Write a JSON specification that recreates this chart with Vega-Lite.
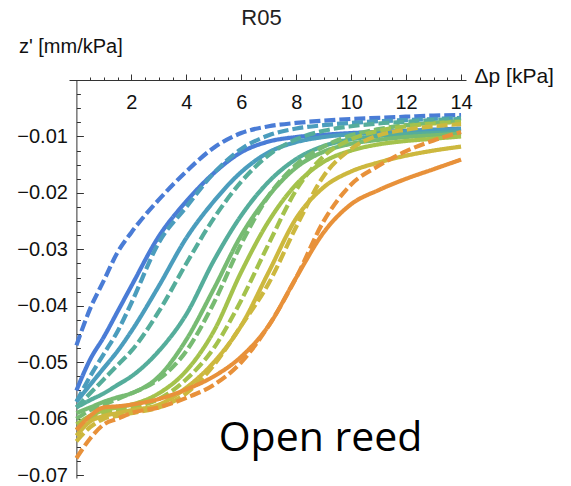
{
  "$schema": "https://vega.github.io/schema/vega-lite/v6.json",
  "width": 397,
  "height": 398,
  "autosize": "none",
  "padding": {"left": 69, "top": 80, "right": 105, "bottom": 8},
  "background": "white",
  "title": {"text": "R05", "font": "Liberation Sans", "fontSize": 22, "fontWeight": "normal", "color": "#222", "anchor": "middle", "frame": "group", "offset": 4, "dx": -6, "dy": -2},
  "config": {"view": {"stroke": null}, "font": "Liberation Sans"},
  "resolve": {"axis": {"x": "independent", "y": "independent"}},
  "datasets": {
    "curves": [
      {"series":"k0","style":"dashed","x":0,"y":-0.047},{"series":"k0","style":"dashed","x":0.5,"y":-0.0405},{"series":"k0","style":"dashed","x":1,"y":-0.0355},{"series":"k0","style":"dashed","x":1.5,"y":-0.0305},{"series":"k0","style":"dashed","x":2,"y":-0.027},{"series":"k0","style":"dashed","x":3,"y":-0.0212},{"series":"k0","style":"dashed","x":4,"y":-0.0162},{"series":"k0","style":"dashed","x":5,"y":-0.012},{"series":"k0","style":"dashed","x":6,"y":-0.0094},{"series":"k0","style":"dashed","x":7,"y":-0.0082},{"series":"k0","style":"dashed","x":8,"y":-0.0076},{"series":"k0","style":"dashed","x":9,"y":-0.0072},{"series":"k0","style":"dashed","x":10,"y":-0.0069},{"series":"k0","style":"dashed","x":11,"y":-0.0067},{"series":"k0","style":"dashed","x":12,"y":-0.0065},{"series":"k0","style":"dashed","x":13,"y":-0.0063},{"series":"k0","style":"dashed","x":14,"y":-0.0062},
      {"series":"k0","style":"solid","x":0,"y":-0.055},{"series":"k0","style":"solid","x":0.5,"y":-0.0495},{"series":"k0","style":"solid","x":1,"y":-0.0455},{"series":"k0","style":"solid","x":1.5,"y":-0.041},{"series":"k0","style":"solid","x":2,"y":-0.0365},{"series":"k0","style":"solid","x":3,"y":-0.0277},{"series":"k0","style":"solid","x":4,"y":-0.0215},{"series":"k0","style":"solid","x":5,"y":-0.0165},{"series":"k0","style":"solid","x":6,"y":-0.0128},{"series":"k0","style":"solid","x":7,"y":-0.0109},{"series":"k0","style":"solid","x":8,"y":-0.0101},{"series":"k0","style":"solid","x":9,"y":-0.0097},{"series":"k0","style":"solid","x":10,"y":-0.0094},{"series":"k0","style":"solid","x":11,"y":-0.0092},{"series":"k0","style":"solid","x":12,"y":-0.009},{"series":"k0","style":"solid","x":13,"y":-0.0088},{"series":"k0","style":"solid","x":14,"y":-0.0086},
      {"series":"k1","style":"dashed","x":0,"y":-0.057},{"series":"k1","style":"dashed","x":0.5,"y":-0.0525},{"series":"k1","style":"dashed","x":1,"y":-0.0485},{"series":"k1","style":"dashed","x":1.5,"y":-0.0445},{"series":"k1","style":"dashed","x":2,"y":-0.0395},{"series":"k1","style":"dashed","x":3,"y":-0.0288},{"series":"k1","style":"dashed","x":4,"y":-0.0225},{"series":"k1","style":"dashed","x":5,"y":-0.0165},{"series":"k1","style":"dashed","x":6,"y":-0.0122},{"series":"k1","style":"dashed","x":7,"y":-0.0098},{"series":"k1","style":"dashed","x":8,"y":-0.0086},{"series":"k1","style":"dashed","x":9,"y":-0.008},{"series":"k1","style":"dashed","x":10,"y":-0.0076},{"series":"k1","style":"dashed","x":11,"y":-0.0073},{"series":"k1","style":"dashed","x":12,"y":-0.0071},{"series":"k1","style":"dashed","x":13,"y":-0.0069},{"series":"k1","style":"dashed","x":14,"y":-0.0067},
      {"series":"k1","style":"solid","x":0,"y":-0.057},{"series":"k1","style":"solid","x":0.5,"y":-0.054},{"series":"k1","style":"solid","x":1,"y":-0.051},{"series":"k1","style":"solid","x":1.5,"y":-0.048},{"series":"k1","style":"solid","x":2,"y":-0.0445},{"series":"k1","style":"solid","x":3,"y":-0.0365},{"series":"k1","style":"solid","x":4,"y":-0.028},{"series":"k1","style":"solid","x":5,"y":-0.0215},{"series":"k1","style":"solid","x":6,"y":-0.0163},{"series":"k1","style":"solid","x":7,"y":-0.0128},{"series":"k1","style":"solid","x":8,"y":-0.011},{"series":"k1","style":"solid","x":9,"y":-0.0101},{"series":"k1","style":"solid","x":10,"y":-0.0096},{"series":"k1","style":"solid","x":11,"y":-0.0093},{"series":"k1","style":"solid","x":12,"y":-0.0091},{"series":"k1","style":"solid","x":13,"y":-0.0089},{"series":"k1","style":"solid","x":14,"y":-0.0087},
      {"series":"k2","style":"dashed","x":0,"y":-0.058},{"series":"k2","style":"dashed","x":0.5,"y":-0.0555},{"series":"k2","style":"dashed","x":1,"y":-0.053},{"series":"k2","style":"dashed","x":1.5,"y":-0.0505},{"series":"k2","style":"dashed","x":2,"y":-0.048},{"series":"k2","style":"dashed","x":3,"y":-0.041},{"series":"k2","style":"dashed","x":4,"y":-0.0325},{"series":"k2","style":"dashed","x":5,"y":-0.0245},{"series":"k2","style":"dashed","x":6,"y":-0.018},{"series":"k2","style":"dashed","x":7,"y":-0.0133},{"series":"k2","style":"dashed","x":8,"y":-0.0105},{"series":"k2","style":"dashed","x":9,"y":-0.009},{"series":"k2","style":"dashed","x":10,"y":-0.0082},{"series":"k2","style":"dashed","x":11,"y":-0.0077},{"series":"k2","style":"dashed","x":12,"y":-0.0074},{"series":"k2","style":"dashed","x":13,"y":-0.0071},{"series":"k2","style":"dashed","x":14,"y":-0.0069},
      {"series":"k2","style":"solid","x":0,"y":-0.058},{"series":"k2","style":"solid","x":0.5,"y":-0.0567},{"series":"k2","style":"solid","x":1,"y":-0.0555},{"series":"k2","style":"solid","x":1.5,"y":-0.054},{"series":"k2","style":"solid","x":2,"y":-0.0525},{"series":"k2","style":"solid","x":3,"y":-0.048},{"series":"k2","style":"solid","x":4,"y":-0.0415},{"series":"k2","style":"solid","x":5,"y":-0.032},{"series":"k2","style":"solid","x":6,"y":-0.024},{"series":"k2","style":"solid","x":7,"y":-0.018},{"series":"k2","style":"solid","x":8,"y":-0.014},{"series":"k2","style":"solid","x":9,"y":-0.0117},{"series":"k2","style":"solid","x":10,"y":-0.0105},{"series":"k2","style":"solid","x":11,"y":-0.0099},{"series":"k2","style":"solid","x":12,"y":-0.0096},{"series":"k2","style":"solid","x":13,"y":-0.0094},{"series":"k2","style":"solid","x":14,"y":-0.0092},
      {"series":"k3","style":"solid","x":0,"y":-0.059},{"series":"k3","style":"solid","x":0.5,"y":-0.058},{"series":"k3","style":"solid","x":1,"y":-0.057},{"series":"k3","style":"solid","x":1.5,"y":-0.0562},{"series":"k3","style":"solid","x":2,"y":-0.0555},{"series":"k3","style":"solid","x":3,"y":-0.0525},{"series":"k3","style":"solid","x":4,"y":-0.046},{"series":"k3","style":"solid","x":5,"y":-0.037},{"series":"k3","style":"solid","x":6,"y":-0.0275},{"series":"k3","style":"solid","x":7,"y":-0.0205},{"series":"k3","style":"solid","x":8,"y":-0.0155},{"series":"k3","style":"solid","x":9,"y":-0.0127},{"series":"k3","style":"solid","x":10,"y":-0.0113},{"series":"k3","style":"solid","x":11,"y":-0.0106},{"series":"k3","style":"solid","x":12,"y":-0.0101},{"series":"k3","style":"solid","x":13,"y":-0.0098},{"series":"k3","style":"solid","x":14,"y":-0.0095},
      {"series":"k3","style":"dashed","x":0,"y":-0.06},{"series":"k3","style":"dashed","x":0.5,"y":-0.0585},{"series":"k3","style":"dashed","x":1,"y":-0.0575},{"series":"k3","style":"dashed","x":1.5,"y":-0.0565},{"series":"k3","style":"dashed","x":2,"y":-0.0555},{"series":"k3","style":"dashed","x":3,"y":-0.053},{"series":"k3","style":"dashed","x":4,"y":-0.048},{"series":"k3","style":"dashed","x":5,"y":-0.0395},{"series":"k3","style":"dashed","x":6,"y":-0.029},{"series":"k3","style":"dashed","x":7,"y":-0.0205},{"series":"k3","style":"dashed","x":8,"y":-0.015},{"series":"k3","style":"dashed","x":9,"y":-0.0118},{"series":"k3","style":"dashed","x":10,"y":-0.0098},{"series":"k3","style":"dashed","x":11,"y":-0.0087},{"series":"k3","style":"dashed","x":12,"y":-0.008},{"series":"k3","style":"dashed","x":13,"y":-0.0076},{"series":"k3","style":"dashed","x":14,"y":-0.0073},
      {"series":"k4","style":"solid","x":0,"y":-0.061},{"series":"k4","style":"solid","x":0.5,"y":-0.0595},{"series":"k4","style":"solid","x":1,"y":-0.0585},{"series":"k4","style":"solid","x":1.5,"y":-0.058},{"series":"k4","style":"solid","x":2,"y":-0.0575},{"series":"k4","style":"solid","x":3,"y":-0.0555},{"series":"k4","style":"solid","x":4,"y":-0.0515},{"series":"k4","style":"solid","x":5,"y":-0.0445},{"series":"k4","style":"solid","x":6,"y":-0.034},{"series":"k4","style":"solid","x":7,"y":-0.025},{"series":"k4","style":"solid","x":8,"y":-0.0185},{"series":"k4","style":"solid","x":9,"y":-0.0145},{"series":"k4","style":"solid","x":10,"y":-0.0125},{"series":"k4","style":"solid","x":11,"y":-0.0114},{"series":"k4","style":"solid","x":12,"y":-0.0108},{"series":"k4","style":"solid","x":13,"y":-0.0104},{"series":"k4","style":"solid","x":14,"y":-0.01},
      {"series":"k4","style":"dashed","x":0,"y":-0.062},{"series":"k4","style":"dashed","x":0.5,"y":-0.06},{"series":"k4","style":"dashed","x":1,"y":-0.059},{"series":"k4","style":"dashed","x":1.5,"y":-0.0585},{"series":"k4","style":"dashed","x":2,"y":-0.058},{"series":"k4","style":"dashed","x":3,"y":-0.0565},{"series":"k4","style":"dashed","x":4,"y":-0.053},{"series":"k4","style":"dashed","x":5,"y":-0.0475},{"series":"k4","style":"dashed","x":6,"y":-0.039},{"series":"k4","style":"dashed","x":7,"y":-0.029},{"series":"k4","style":"dashed","x":8,"y":-0.0195},{"series":"k4","style":"dashed","x":9,"y":-0.0135},{"series":"k4","style":"dashed","x":10,"y":-0.0105},{"series":"k4","style":"dashed","x":11,"y":-0.009},{"series":"k4","style":"dashed","x":12,"y":-0.0082},{"series":"k4","style":"dashed","x":13,"y":-0.0077},{"series":"k4","style":"dashed","x":14,"y":-0.0074},
      {"series":"k5","style":"solid","x":0,"y":-0.063},{"series":"k5","style":"solid","x":0.5,"y":-0.0605},{"series":"k5","style":"solid","x":1,"y":-0.0595},{"series":"k5","style":"solid","x":1.5,"y":-0.059},{"series":"k5","style":"solid","x":2,"y":-0.0585},{"series":"k5","style":"solid","x":3,"y":-0.0575},{"series":"k5","style":"solid","x":4,"y":-0.0545},{"series":"k5","style":"solid","x":5,"y":-0.05},{"series":"k5","style":"solid","x":6,"y":-0.0435},{"series":"k5","style":"solid","x":7,"y":-0.034},{"series":"k5","style":"solid","x":8,"y":-0.0245},{"series":"k5","style":"solid","x":9,"y":-0.019},{"series":"k5","style":"solid","x":10,"y":-0.0162},{"series":"k5","style":"solid","x":11,"y":-0.0146},{"series":"k5","style":"solid","x":12,"y":-0.0134},{"series":"k5","style":"solid","x":13,"y":-0.0125},{"series":"k5","style":"solid","x":14,"y":-0.0118},
      {"series":"k5","style":"dashed","x":0,"y":-0.064},{"series":"k5","style":"dashed","x":0.5,"y":-0.0615},{"series":"k5","style":"dashed","x":1,"y":-0.06},{"series":"k5","style":"dashed","x":1.5,"y":-0.0595},{"series":"k5","style":"dashed","x":2,"y":-0.059},{"series":"k5","style":"dashed","x":3,"y":-0.058},{"series":"k5","style":"dashed","x":4,"y":-0.0555},{"series":"k5","style":"dashed","x":5,"y":-0.0505},{"series":"k5","style":"dashed","x":6,"y":-0.0435},{"series":"k5","style":"dashed","x":7,"y":-0.036},{"series":"k5","style":"dashed","x":8,"y":-0.026},{"series":"k5","style":"dashed","x":9,"y":-0.017},{"series":"k5","style":"dashed","x":10,"y":-0.0122},{"series":"k5","style":"dashed","x":11,"y":-0.0098},{"series":"k5","style":"dashed","x":12,"y":-0.0088},{"series":"k5","style":"dashed","x":13,"y":-0.0082},{"series":"k5","style":"dashed","x":14,"y":-0.0078},
      {"series":"k6","style":"solid","x":0,"y":-0.062},{"series":"k6","style":"solid","x":0.5,"y":-0.0595},{"series":"k6","style":"solid","x":1,"y":-0.058},{"series":"k6","style":"solid","x":1.5,"y":-0.0578},{"series":"k6","style":"solid","x":2,"y":-0.0575},{"series":"k6","style":"solid","x":3,"y":-0.0565},{"series":"k6","style":"solid","x":4,"y":-0.0548},{"series":"k6","style":"solid","x":5,"y":-0.0525},{"series":"k6","style":"solid","x":6,"y":-0.049},{"series":"k6","style":"solid","x":7,"y":-0.0435},{"series":"k6","style":"solid","x":8,"y":-0.035},{"series":"k6","style":"solid","x":9,"y":-0.027},{"series":"k6","style":"solid","x":10,"y":-0.022},{"series":"k6","style":"solid","x":11,"y":-0.0195},{"series":"k6","style":"solid","x":12,"y":-0.0175},{"series":"k6","style":"solid","x":13,"y":-0.0158},{"series":"k6","style":"solid","x":14,"y":-0.0141},
      {"series":"k6","style":"dashed","x":0,"y":-0.067},{"series":"k6","style":"dashed","x":0.5,"y":-0.0635},{"series":"k6","style":"dashed","x":1,"y":-0.061},{"series":"k6","style":"dashed","x":1.5,"y":-0.06},{"series":"k6","style":"dashed","x":2,"y":-0.059},{"series":"k6","style":"dashed","x":3,"y":-0.058},{"series":"k6","style":"dashed","x":4,"y":-0.0563},{"series":"k6","style":"dashed","x":5,"y":-0.054},{"series":"k6","style":"dashed","x":6,"y":-0.05},{"series":"k6","style":"dashed","x":7,"y":-0.0435},{"series":"k6","style":"dashed","x":8,"y":-0.035},{"series":"k6","style":"dashed","x":9,"y":-0.025},{"series":"k6","style":"dashed","x":10,"y":-0.0185},{"series":"k6","style":"dashed","x":11,"y":-0.0152},{"series":"k6","style":"dashed","x":12,"y":-0.0126},{"series":"k6","style":"dashed","x":13,"y":-0.0107},{"series":"k6","style":"dashed","x":14,"y":-0.0092}
    ],
    "note": [{"x": 5.18, "y": -0.0658, "label": "Open reed"}]
  },
  "layer": [
    {
      "data": {"name": "curves"},
      "mark": {"type": "line", "strokeWidth": 4.2, "interpolate": "monotone", "strokeCap": "butt", "clip": false},
      "encoding": {
        "x": {
          "field": "x", "type": "quantitative",
          "scale": {"domain": [-0.27, 14.18], "nice": false, "zero": false},
          "axis": {
            "orient": "top",
            "values": [2,4,6,8,10,12,14],
            "format": "d",
            "tickSize": 6,
            "labelPadding": -18.6,
            "labelBaseline": "top",
            "labelFontSize": 20,
            "labelColor": "#111",
            "labelOverlap": false,
            "labelFlush": false,
            "labelBound": false,
            "domainColor": "#333",
            "tickColor": "#333",
            "grid": false,
            "title": "Δp [kPa]",
            "titleFontSize": 21,
            "titleFontWeight": "normal",
            "titleColor": "#111",
            "titleAlign": "left",
            "titleBaseline": "alphabetic",
            "titleAngle": 0,
            "titleX": 405,
            "titleY": 2
          }
        },
        "y": {
          "field": "y", "type": "quantitative",
          "scale": {"domain": [-0.0705, 0], "nice": false, "zero": false},
          "axis": {
            "orient": "left",
            "offset": -7.4,
            "values": [-0.01,-0.02,-0.03,-0.04,-0.05,-0.06,-0.07],
            "format": ".2f",
            "tickSize": -7,
            "labelPadding": 16,
            "labelFontSize": 20,
            "labelColor": "#111",
            "labelOverlap": false,
            "labelFlush": false,
            "labelBound": false,
            "domainColor": "#333",
            "tickColor": "#333",
            "grid": false,
            "title": "z' [mm/kPa]",
            "titleFontSize": 20,
            "titleFontWeight": "normal",
            "titleColor": "#111",
            "titleAngle": 0,
            "titleAlign": "left",
            "titleBaseline": "alphabetic",
            "titleX": -58,
            "titleY": -28
          }
        },
        "color": {
          "field": "series", "type": "nominal",
          "scale": {"domain": ["k0","k1","k2","k3","k4","k5","k6"], "range": ["#4a7cd6","#4b9dbd","#55ad9b","#77bb72","#a4c24c","#cdb83e","#e8913a"]},
          "legend": null
        },
        "strokeDash": {
          "field": "style", "type": "nominal",
          "scale": {"domain": ["solid","dashed"], "range": [[1,0],[11,4]]},
          "legend": null
        }
      }
    },
    {
      "data": {"name": "note"},
      "mark": {"type": "text", "font": "Open Sans", "fontSize": 41, "align": "left", "baseline": "alphabetic", "color": "#000"},
      "encoding": {
        "x": {
          "field": "x", "type": "quantitative",
          "axis": {
            "orient": "top",
            "values": [0.5,1,1.5,2.5,3,3.5,4.5,5,5.5,6.5,7,7.5,8.5,9,9.5,10.5,11,11.5,12.5,13,13.5],
            "labels": false,
            "domain": false,
            "tickSize": 3,
            "tickColor": "#333",
            "grid": false,
            "title": null
          }
        },
        "y": {
          "field": "y", "type": "quantitative",
          "axis": {
            "orient": "left",
            "offset": -7.4,
            "values": [-0.0025,-0.005,-0.0075,-0.0125,-0.015,-0.0175,-0.0225,-0.025,-0.0275,-0.0325,-0.035,-0.0375,-0.0425,-0.045,-0.0475,-0.0525,-0.055,-0.0575,-0.0625,-0.065,-0.0675],
            "labels": false,
            "domain": false,
            "tickSize": -4,
            "tickColor": "#333",
            "grid": false,
            "title": null
          }
        },
        "text": {"field": "label"}
      }
    }
  ]
}
